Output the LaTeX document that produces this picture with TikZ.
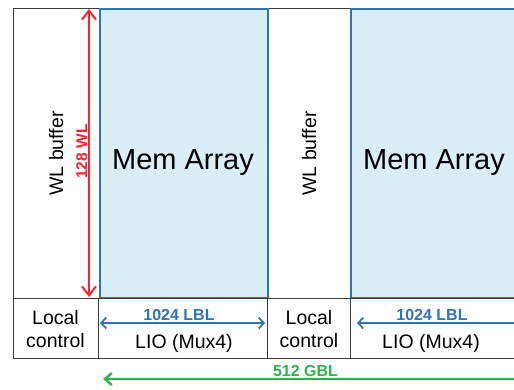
\documentclass[tikz,border=0pt]{standalone}
\usepackage{fontspec}
\setmainfont{Liberation Sans}
\usetikzlibrary{arrows.meta}
\definecolor{memblue}{HTML}{2E75B6}
\definecolor{memfill}{HTML}{DAEEF8}
\definecolor{wlred}{HTML}{FF2030}
\definecolor{gblgreen}{HTML}{33B24A}
\definecolor{edgegray}{HTML}{3A3A3A}
\begin{document}
\begin{tikzpicture}[x=1pt,y=-1pt,
  cell/.style={draw=edgegray, line width=1.2pt, fill=white, inner sep=0pt, anchor=north west},
  mem/.style={draw=memblue, line width=1.8pt, fill=memfill, inner sep=0pt, anchor=north west},
  bigtxt/.style={font=\fontsize{29}{33}\selectfont, anchor=base, inner sep=0pt},
  midtxt/.style={font=\fontsize{19.5}{23}\selectfont, anchor=base, inner sep=0pt},
  redlbl/.style={font=\fontsize{15.5}{18}\selectfont\bfseries, text=wlred, anchor=base, inner sep=0pt},
  bluelbl/.style={font=\fontsize{16}{19}\selectfont\bfseries, text=memblue, anchor=base, inner sep=0pt},
  greenlbl/.style={font=\fontsize{16}{19}\selectfont\bfseries, text=gblgreen, anchor=base, inner sep=0pt},
  wlarrow/.style={draw=wlred, line width=2pt, {Straight Barb[length=9pt,width=14pt]}-{Straight Barb[length=9pt,width=14pt]}},
  lblboth/.style={draw=memblue, line width=1.8pt, {Straight Barb[length=5pt,width=11pt]}-{Straight Barb[length=5pt,width=11pt]}},
  lblleft/.style={draw=memblue, line width=1.8pt, {Straight Barb[length=5pt,width=11pt]}-},
  gblarrow/.style={draw=gblgreen, line width=2.4pt, {Straight Barb[length=7pt,width=12pt]}-},
]
\useasboundingbox (0,0) rectangle (514,389);
\clip (0,0) rectangle (514,389);
% upper row
\node[cell, minimum width=86pt, minimum height=290pt] (wlb1) at (13,8) {};
\node[cell, minimum width=83pt, minimum height=290pt] (wlb2) at (267,8) {};
\node[mem, minimum width=168pt, minimum height=289pt] (mem1) at (99,8) {};
\node[mem, minimum width=172pt, minimum height=289pt] (mem2) at (350,8) {};
% lower row
\node[cell, minimum width=85pt, minimum height=60pt] (lc1) at (13,298) {};
\node[cell, minimum width=169pt, minimum height=60pt] (lio1) at (98,298) {};
\node[cell, minimum width=83pt, minimum height=60pt] (lc2) at (267,298) {};
\node[cell, minimum width=172pt, minimum height=60pt] (lio2) at (350,298) {};
% texts
\node[bigtxt] (mt1) at (183,169) {Mem Array};
\node[bigtxt] (mt2) at (434,169) {Mem Array};
\node[midtxt, rotate=90] (wt1) at (63,153.5) {WL buffer};
\node[midtxt, rotate=90] (wt2) at (316,153.5) {WL buffer};
\node[redlbl, rotate=90] (wl128) at (87,151.5) {128 WL};
\node[midtxt] (lc1a) at (55.5,324) {Local};
\node[midtxt] (lc1b) at (55.5,347) {control};
\node[midtxt] (lc2a) at (309,324) {Local};
\node[midtxt] (lc2b) at (309,347) {control};
\node[midtxt] (liot1) at (184,348) {LIO (Mux4)};
\node[midtxt] (liot2) at (431,348) {LIO (Mux4)};
\node[bluelbl] (lblt1) at (179,320) {1024 LBL};
\node[bluelbl] (lblt2) at (432,320) {1024 LBL};
\node[greenlbl] (gblt) at (305.5,376) {512 GBL};
% arrows
\coordinate (wltop) at (89,9);
\coordinate (wlbot) at (89,297);
\draw[wlarrow] (wlbot) -- (wltop);
\coordinate (lbl1a) at (100,323);
\coordinate (lbl1b) at (265,323);
\draw[lblboth] (lbl1a) -- (lbl1b);
\coordinate (lbl2a) at (357,323);
\coordinate (lbl2b) at (520,323);
\draw[lblleft] (lbl2a) -- (lbl2b);
\coordinate (gbla) at (103,379);
\coordinate (gblb) at (520,379);
\draw[gblarrow] (gbla) -- (gblb);
\end{tikzpicture}
\end{document}
